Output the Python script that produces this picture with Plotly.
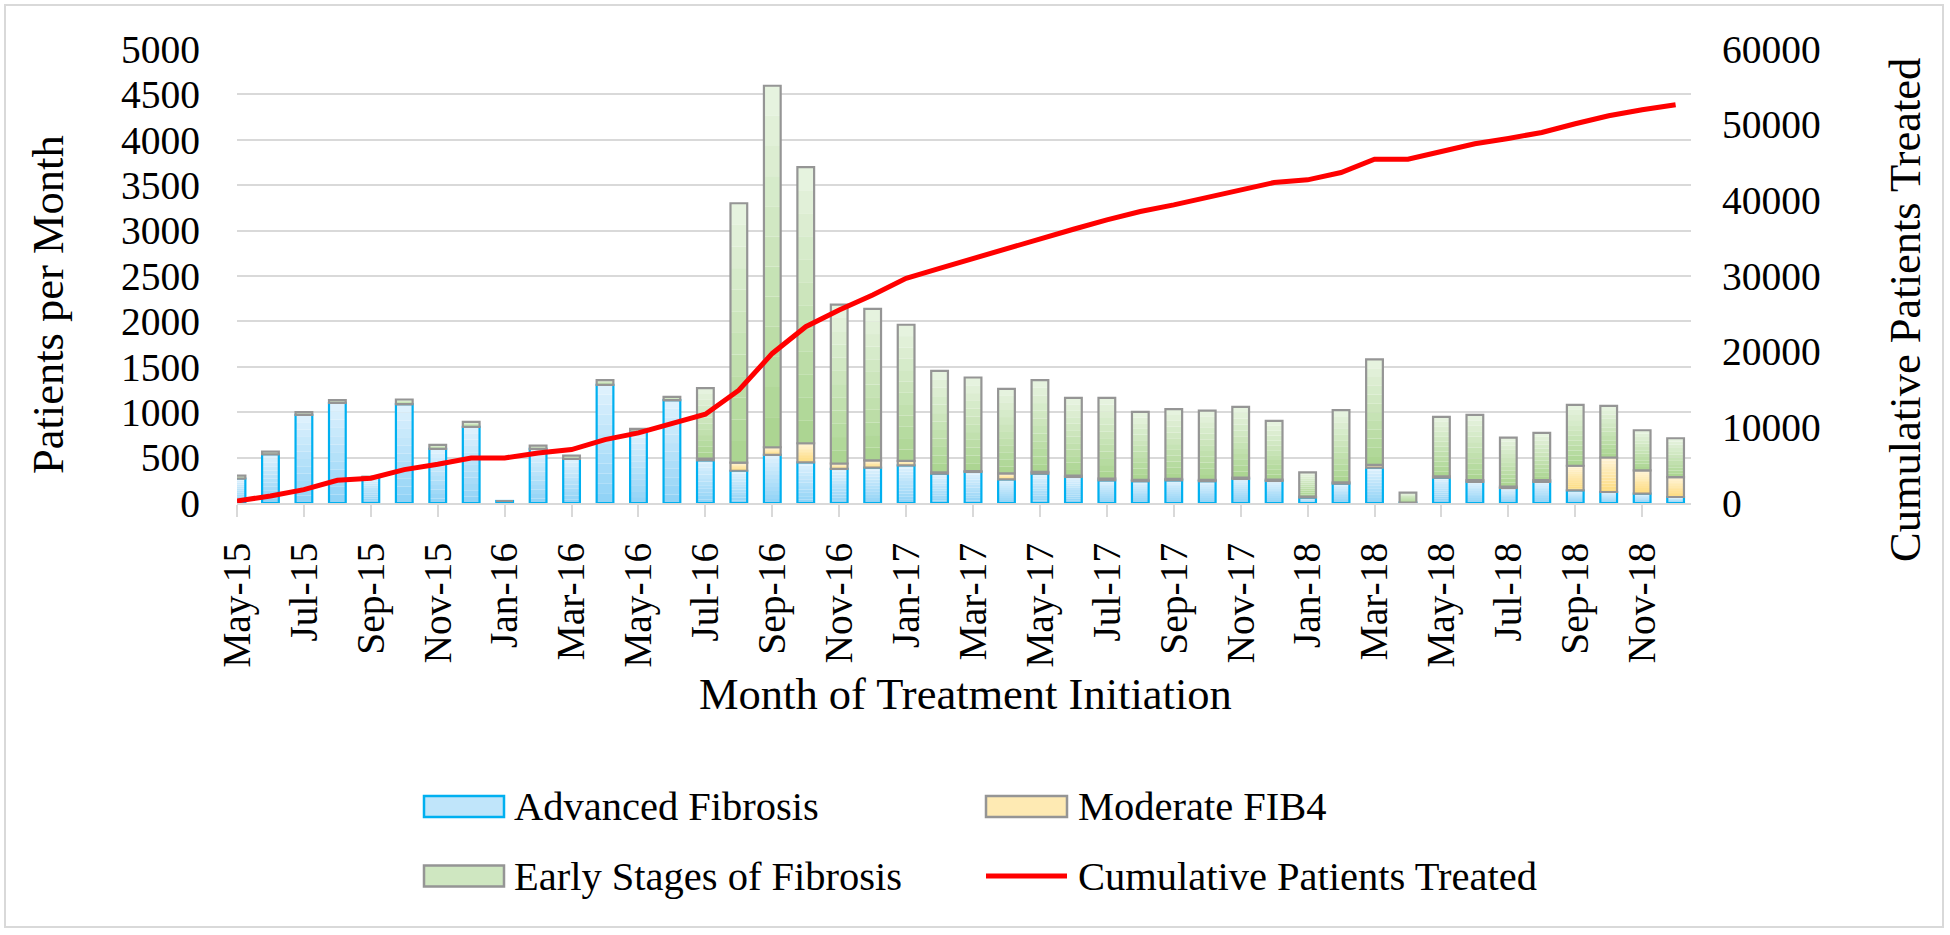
import plotly.graph_objects as go

# ---------------- data ----------------
months = [
    "May-15", "Jun-15", "Jul-15", "Aug-15", "Sep-15", "Oct-15", "Nov-15", "Dec-15",
    "Jan-16", "Feb-16", "Mar-16", "Apr-16", "May-16", "Jun-16", "Jul-16", "Aug-16",
    "Sep-16", "Oct-16", "Nov-16", "Dec-16", "Jan-17", "Feb-17", "Mar-17", "Apr-17",
    "May-17", "Jun-17", "Jul-17", "Aug-17", "Sep-17", "Oct-17", "Nov-17", "Dec-17",
    "Jan-18", "Feb-18", "Mar-18", "Apr-18", "May-18", "Jun-18", "Jul-18", "Aug-18",
    "Sep-18", "Oct-18", "Nov-18", "Dec-18",
]
tick_labels = [
    "May-15", "Jul-15", "Sep-15", "Nov-15", "Jan-16", "Mar-16", "May-16", "Jul-16",
    "Sep-16", "Nov-16", "Jan-17", "Mar-17", "May-17", "Jul-17", "Sep-17", "Nov-17",
    "Jan-18", "Mar-18", "May-18", "Jul-18", "Sep-18", "Nov-18",
]
advanced = [270, 537, 970, 1103, 285, 1088, 595, 838, 22, 595, 485, 1301, 787, 1132,
            470, 355, 529, 448, 375, 390, 415, 323, 342, 261, 323, 287, 250, 240,
            250, 240, 265, 243, 60, 213, 390, 5, 279, 232, 165, 232, 140, 121, 103, 66]
moderate = [0, 0, 0, 0, 0, 0, 0, 0, 0, 0, 0, 0, 0, 0,
            20, 90, 85, 210, 60, 80, 50, 15, 10, 65, 20, 15, 20, 15,
            15, 15, 15, 15, 10, 15, 30, 0, 15, 20, 15, 20, 270, 380, 257, 220]
early = [31, 29, 30, 29, 5, 52, 45, 55, 0, 37, 37, 52, 29, 37,
         775, 2856, 3981, 3040, 1749, 1669, 1498, 1118, 1030, 931, 1010, 856, 888, 749,
         768, 763, 779, 646, 268, 794, 1161, 109, 654, 718, 540, 520, 671, 569, 441, 427]
cumulative = [265, 927, 1765, 3000, 3265, 4412, 5118, 5956, 5956, 6618, 7059, 8383,
              9265, 10500, 11736, 14912, 19766, 23295, 25500, 27487, 29693, 31016,
              32340, 33664, 34987, 36178, 37414, 38517, 39400, 40400, 41473, 42355,
              42708, 43679, 45444, 45444, 46458, 47473, 48179, 48973, 50120, 51179,
              51974, 52636]

series_names = ["Advanced Fibrosis", "Moderate FIB4", "Early Stages of Fibrosis",
                "Cumulative Patients Treated"]

# ---------------- styling ----------------
W, H = 1950, 935
L, R, T, B = 237, 259, 49, 432
PW, PH = W - L - R, H - T - B
FONT = "'Liberation Serif', 'Times New Roman', serif"


def px(x):
    return (x - L) / PW


def py(y):
    return (H - B - y) / PH


def hex2rgb(h):
    h = h.lstrip("#")
    return tuple(int(h[i:i + 2], 16) for i in (0, 2, 4))


def lerp(c1, c2, t):
    a, b = hex2rgb(c1), hex2rgb(c2)
    return "rgb(%d,%d,%d)" % tuple(round(a[i] + (b[i] - a[i]) * t) for i in range(3))


styles = [
    # (bottom colour, top colour, outline colour)
    ("#8fd2f6", "#e0f2fd", "#00b0f0"),
    ("#fddb7c", "#fff4d8", "#959595"),
    ("#a9d48e", "#e9f4e3", "#959595"),
]

BAR_W = 0.5
N_SLICES = 12

fig = go.Figure()

bases = [
    [0] * len(months),
    list(advanced),
    [a + m for a, m in zip(advanced, moderate)],
]
values = [advanced, moderate, early]

for si, (vals, base) in enumerate(zip(values, bases)):
    c_bot, c_top, c_line = styles[si]
    # gradient fill: slices inside each segment
    for k in range(N_SLICES):
        fig.add_trace(go.Bar(
            x=months,
            y=[v / N_SLICES for v in vals],
            base=[b + v * k / N_SLICES for b, v in zip(base, vals)],
            width=BAR_W,
            marker=dict(color=lerp(c_bot, c_top, (k + 0.5) / N_SLICES), line=dict(width=0)),
            showlegend=False, hoverinfo="skip",
        ))
    # outline
    fig.add_trace(go.Bar(
        x=months, y=vals, base=base, width=BAR_W, name=series_names[si],
        marker=dict(color="rgba(0,0,0,0)", line=dict(color=c_line, width=2.2)),
        showlegend=False,
    ))

fig.add_trace(go.Scatter(
    x=months, y=cumulative, yaxis="y2", mode="lines", name=series_names[3],
    line=dict(color="#ff0000", width=5), showlegend=False,
))

tickfont = dict(family=FONT, size=39.5, color="black")

fig.update_layout(
    width=W, height=H,
    margin=dict(l=L, r=R, t=T, b=B, pad=0, autoexpand=False),
    paper_bgcolor="white", plot_bgcolor="white",
    barmode="overlay",
    font=dict(family=FONT, color="black"),
    xaxis=dict(
        type="category", range=[0, 43.46], automargin=False,
        tickmode="array", tickvals=tick_labels, ticktext=tick_labels,
        tickangle=-90, ticks="outside", ticklen=12, tickwidth=2, tickcolor="#d9d9d9",
        showline=True, linecolor="#d9d9d9", linewidth=2, showgrid=False,
        tickfont=tickfont, ticklabelstandoff=10,
    ),
    yaxis=dict(
        range=[0, 5000], tickmode="array", tickvals=list(range(0, 5001, 500)),
        automargin=False,
        showgrid=True, gridcolor="#d9d9d9", gridwidth=2, zeroline=False,
        ticks="", showline=False, tickfont=tickfont, ticklabelstandoff=36,
    ),
    yaxis2=dict(
        range=[0, 60000], tickmode="array", tickvals=list(range(0, 60001, 10000)),
        tickformat="d", automargin=False,
        overlaying="y", side="right", showgrid=False, zeroline=False,
        ticks="", showline=False, tickfont=tickfont, ticklabelstandoff=30,
    ),
)

shapes = []
annotations = []

# outer frame
shapes.append(dict(type="rect", xref="paper", yref="paper",
                   x0=px(5), x1=px(1943), y0=py(927), y1=py(5),
                   line=dict(color="#d9d9d9", width=2), layer="below"))

# axis titles
title_font = dict(family=FONT, size=44.5, color="black")
annotations.append(dict(text="Patients per Month", xref="paper", yref="paper",
                        x=px(48), y=py(305), textangle=-90, showarrow=False,
                        xanchor="center", yanchor="middle", font=title_font))
annotations.append(dict(text="Cumulative Patients Treated", xref="paper", yref="paper",
                        x=px(1905), y=py(310), textangle=-90, showarrow=False,
                        xanchor="center", yanchor="middle", font=title_font))
annotations.append(dict(text="Month of Treatment Initiation", xref="paper", yref="paper",
                        x=px(965), y=py(694), showarrow=False,
                        xanchor="center", yanchor="middle", font=title_font))

# legend (drawn manually to match swatch sizes)
leg_font = dict(family=FONT, size=40.5, color="black")
leg_items = [
    (0, 424, 504, 512, 806.5),
    (1, 986, 1067, 1076, 806.5),
    (2, 424, 504, 512, 876),
]
for si, x0, x1, xt, yc in leg_items:
    c_bot, c_top, c_line = styles[si]
    shapes.append(dict(type="rect", xref="paper", yref="paper",
                       x0=px(x0), x1=px(x1), y0=py(yc + 10.5), y1=py(yc - 10.5),
                       fillcolor=lerp(c_bot, c_top, 0.6),
                       line=dict(color=c_line, width=2.5)))
    annotations.append(dict(text=series_names[si], xref="paper", yref="paper",
                            x=px(xt), y=py(yc), showarrow=False,
                            xanchor="left", yanchor="middle", font=leg_font))
shapes.append(dict(type="line", xref="paper", yref="paper",
                   x0=px(986), x1=px(1067), y0=py(876), y1=py(876),
                   line=dict(color="#ff0000", width=5)))
annotations.append(dict(text=series_names[3], xref="paper", yref="paper",
                        x=px(1076), y=py(876), showarrow=False,
                        xanchor="left", yanchor="middle", font=leg_font))

fig.update_layout(shapes=shapes, annotations=annotations)

fig.write_html("out.html", config={"displayModeBar": False})

# remove the default page margin so the figure sits at the window origin
with open("out.html", "r", encoding="utf-8") as f:
    html = f.read()
html = html.replace("<head>", "<head><style>html,body{margin:0;padding:0;overflow:hidden;}</style>", 1)
with open("out.html", "w", encoding="utf-8") as f:
    f.write(html)
